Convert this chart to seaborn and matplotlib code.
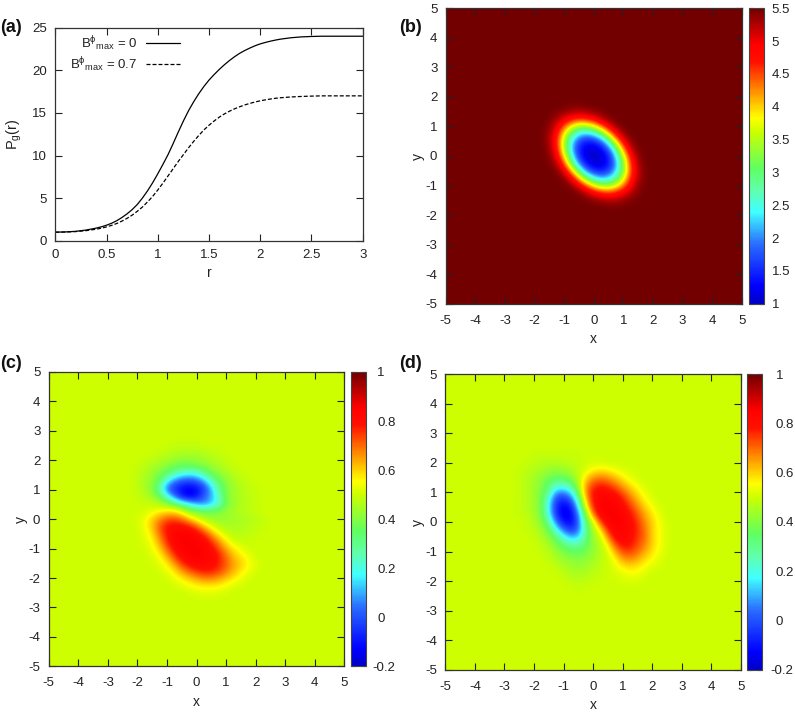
import numpy as np
import pandas as pd
import matplotlib
matplotlib.use("Agg")
import matplotlib.pyplot as plt
from matplotlib.colors import LinearSegmentedColormap
from matplotlib.transforms import ScaledTranslation
import seaborn as sns

# ---------- panel (a) ----------
r_values = [0, .1, .2, .3, .4, .45, .5, .55, .6, .65, .7, .75, .8, .85, .9, .95, 1, 1.05, 1.1, 1.15, 1.2, 1.25,
            1.3, 1.35, 1.4, 1.45, 1.5, 1.55, 1.6, 1.65, 1.7, 1.75, 1.8, 1.85, 1.9, 1.95, 2, 2.05, 2.1, 2.15, 2.2,
            2.3, 2.4, 2.5, 2.6, 2.8, 3]
p_b0 = [1, 1.03, 1.1, 1.25, 1.48, 1.63, 1.82, 2.05, 2.35, 2.72, 3.15, 3.65, 4.25, 5.0, 5.85, 6.8, 7.85, 8.95, 10.1,
        11.4, 12.75, 14.05, 15.25, 16.3, 17.25, 18.1, 18.85, 19.5, 20.1, 20.65, 21.15, 21.6, 22.0, 22.33, 22.62,
        22.88, 23.1, 23.27, 23.42, 23.55, 23.66, 23.82, 23.92, 23.97, 24, 24, 24]
p_b07 = [1, 1.02, 1.07, 1.18, 1.35, 1.47, 1.62, 1.8, 2.02, 2.3, 2.62, 3.0, 3.45, 3.95, 4.55, 5.2, 5.95, 6.75, 7.6,
         8.45, 9.3, 10.1, 10.9, 11.65, 12.35, 13.0, 13.55, 14.05, 14.5, 14.88, 15.2, 15.48, 15.72, 15.94, 16.12,
         16.28, 16.42, 16.53, 16.63, 16.72, 16.78, 16.87, 16.93, 16.97, 17, 17, 17]
label_b0 = r'B$^{\phi}{}_{\mathrm{max}}$ = 0'
label_b07 = r'B$^{\phi}{}_{\mathrm{max}}$ = 0.7'

# ---------- panel (b): rows y = 2 ... 0, x = -2 ... 2, step 0.25 ----------
b_rows = [
    [5.5]*17,
    [5.5, 5.5, 5.5, 5.5, 5.48, 5.47, 5.47, 5.49, 5.5, 5.5, 5.5, 5.5, 5.5, 5.5, 5.5, 5.5, 5.5],
    [5.5, 5.5, 5.49, 5.44, 5.38, 5.28, 5.26, 5.32, 5.41, 5.46, 5.5, 5.5, 5.5, 5.5, 5.5, 5.5, 5.5],
    [5.5, 5.5, 5.44, 5.27, 5.0, 4.75, 4.6, 4.71, 4.92, 5.22, 5.42, 5.49, 5.5, 5.5, 5.5, 5.5, 5.5],
    [5.5, 5.48, 5.38, 5.0, 4.39, 3.79, 3.4, 3.42, 3.79, 4.39, 5.0, 5.38, 5.49, 5.5, 5.5, 5.5, 5.5],
    [5.5, 5.47, 5.28, 4.75, 3.79, 2.85, 2.35, 2.15, 2.45, 3.05, 4.03, 4.9, 5.38, 5.49, 5.5, 5.5, 5.5],
    [5.5, 5.47, 5.26, 4.6, 3.4, 2.35, 1.65, 1.42, 1.5, 1.9, 2.8, 4.03, 5.0, 5.42, 5.5, 5.5, 5.5],
    [5.5, 5.49, 5.32, 4.71, 3.42, 2.15, 1.42, 1.12, 1.1, 1.3, 1.9, 3.05, 4.39, 5.22, 5.46, 5.5, 5.5],
    [5.5, 5.5, 5.41, 4.92, 3.79, 2.45, 1.48, 1.1, 1.0, 1.1, 1.48, 2.45, 3.79, 4.92, 5.41, 5.5, 5.5],
]
# ---------- panel (c): rows y = 2.5 ... -2.5, x = -2.5 ... 2.5, step 0.25 ----------
c_rows = [
    [.5,.5,.5,.5,.5,.5,.5,.49,.49,.49,.49,.5,.5,.5,.5,.5,.5,.5,.5,.5,.5],
    [.5,.5,.5,.5,.5,.49,.48,.47,.46,.46,.46,.47,.48,.49,.5,.5,.5,.5,.5,.5,.5],
    [.5,.5,.5,.49,.48,.46,.45,.43,.42,.42,.43,.44,.46,.47,.49,.5,.5,.5,.5,.5,.5],
    [.5,.5,.49,.47,.45,.43,.40,.37,.35,.35,.37,.40,.43,.45,.47,.49,.5,.5,.5,.5,.5],
    [.5,.5,.48,.46,.43,.38,.33,.25,.19,.16,.19,.27,.36,.41,.44,.47,.49,.5,.5,.5,.5],
    [.5,.5,.48,.45,.41,.34,.16,.04,-.02,-.03,0,.09,.24,.35,.41,.45,.47,.49,.5,.5,.5],
    [.5,.5,.48,.45,.40,.25,.03,-.06,-.12,-.15,-.12,-.03,.12,.30,.39,.44,.46,.48,.49,.5,.5],
    [.5,.5,.49,.47,.43,.37,.20,.04,-.10,-.15,-.10,.03,.10,.25,.40,.44,.46,.48,.49,.5,.5],
    [.5,.5,.5,.49,.49,.46,.42,.34,.25,.17,.09,.06,.13,.22,.38,.43,.46,.47,.49,.5,.5],
    [.5,.5,.5,.51,.53,.56,.58,.58,.52,.42,.40,.36,.38,.40,.43,.45,.47,.48,.49,.5,.5],
    [.5,.5,.51,.54,.60,.66,.71,.72,.68,.60,.52,.46,.43,.42,.43,.44,.45,.46,.47,.49,.5],
    [.5,.5,.51,.55,.62,.72,.79,.81,.80,.77,.70,.60,.52,.47,.45,.45,.46,.47,.48,.49,.5],
    [.5,.5,.5,.53,.59,.70,.79,.84,.85,.85,.81,.74,.64,.55,.49,.47,.47,.48,.49,.5,.5],
    [.5,.5,.5,.52,.56,.66,.77,.84,.86,.86,.85,.82,.74,.65,.56,.50,.49,.49,.5,.5,.5],
    [.5,.5,.5,.51,.54,.61,.72,.81,.85,.86,.86,.85,.80,.72,.63,.57,.53,.5,.5,.5,.5],
    [.5,.5,.5,.5,.52,.56,.65,.75,.83,.85,.86,.85,.83,.77,.69,.61,.57,.53,.5,.5,.5],
    [.5,.5,.5,.5,.51,.53,.58,.67,.76,.81,.84,.84,.82,.77,.71,.64,.60,.56,.52,.5,.5],
    [.5,.5,.5,.5,.5,.51,.54,.59,.67,.73,.77,.79,.78,.75,.69,.63,.58,.54,.51,.5,.5],
    [.5,.5,.5,.5,.5,.5,.51,.54,.58,.62,.66,.69,.69,.66,.62,.58,.54,.51,.5,.5,.5],
    [.5,.5,.5,.5,.5,.5,.5,.51,.53,.55,.57,.58,.58,.57,.55,.52,.51,.5,.5,.5,.5],
    [.5,.5,.5,.5,.5,.5,.5,.5,.5,.51,.52,.53,.53,.52,.51,.5,.5,.5,.5,.5,.5],
]
# ---------- panel (d): same grid as (c) ----------
d_rows = [
    [.5]*21,
    [.5,.5,.49,.49,.49,.49,.49,.49,.49,.5,.5,.5,.5,.5,.5,.5,.5,.5,.5,.5,.5],
    [.5,.49,.48,.47,.46,.46,.47,.48,.49,.5,.51,.51,.5,.5,.5,.5,.5,.5,.5,.5,.5],
    [.49,.48,.46,.45,.43,.42,.43,.45,.48,.52,.56,.58,.57,.54,.52,.51,.5,.5,.5,.5,.5],
    [.49,.47,.45,.42,.38,.35,.36,.40,.47,.58,.66,.68,.66,.62,.57,.53,.51,.5,.5,.5,.5],
    [.49,.47,.44,.40,.33,.26,.24,.30,.45,.64,.74,.77,.75,.70,.64,.58,.54,.51,.5,.5,.5],
    [.49,.47,.44,.39,.30,.08,.06,.14,.37,.66,.79,.83,.82,.78,.72,.65,.58,.53,.51,.5,.5],
    [.49,.47,.44,.38,.20,-.02,-.07,0,.25,.60,.79,.85,.85,.84,.78,.70,.63,.56,.52,.5,.5],
    [.49,.47,.44,.38,.18,-.06,-.15,-.10,.14,.52,.76,.85,.86,.85,.82,.75,.68,.60,.55,.51,.5],
    [.49,.48,.45,.39,.20,-.04,-.16,-.14,.05,.38,.68,.83,.86,.86,.85,.79,.72,.64,.58,.53,.5],
    [.5,.49,.46,.41,.30,.05,-.10,-.14,.02,.32,.50,.73,.85,.86,.85,.81,.75,.67,.60,.54,.51],
    [.5,.49,.48,.44,.37,.20,.04,-.05,.03,.28,.45,.58,.77,.85,.85,.82,.76,.69,.60,.55,.51],
    [.5,.5,.49,.46,.41,.33,.20,.11,.13,.30,.43,.50,.67,.81,.84,.81,.75,.70,.60,.55,.51],
    [.5,.5,.5,.48,.45,.39,.33,.27,.27,.34,.42,.47,.57,.73,.80,.79,.73,.68,.60,.55,.51],
    [.5,.5,.5,.49,.47,.43,.39,.36,.35,.38,.42,.46,.52,.63,.73,.74,.70,.64,.58,.54,.51],
    [.5,.5,.5,.5,.48,.46,.43,.41,.40,.41,.44,.47,.50,.56,.65,.67,.64,.59,.56,.52,.5],
    [.5,.5,.5,.5,.5,.48,.46,.44,.43,.44,.46,.48,.50,.53,.57,.59,.58,.55,.52,.51,.5],
    [.5,.5,.5,.5,.5,.5,.48,.46,.45,.46,.48,.49,.5,.51,.53,.55,.54,.52,.5,.5,.5],
    [.5,.5,.5,.5,.5,.5,.5,.48,.48,.48,.49,.5,.5,.5,.51,.51,.51,.5,.5,.5,.5],
    [.5,.5,.5,.5,.5,.5,.5,.5,.49,.5,.5,.5,.5,.5,.5,.5,.5,.5,.5,.5,.5],
    [.5]*21,
]
xy_ticks = [-5, -4, -3, -2, -1, 0, 1, 2, 3, 4, 5]
b_cbar_ticks = [1, 1.5, 2, 2.5, 3, 3.5, 4, 4.5, 5, 5.5]
cd_cbar_ticks = [-.2, 0, .2, .4, .6, .8, 1]

sns.set_theme(style="ticks")
plt.rcParams.update({
    "font.family": ["Liberation Sans", "DejaVu Sans"],
    "mathtext.fontset": "custom",
    "mathtext.rm": "Liberation Sans",
    "mathtext.it": "Liberation Sans",
    "axes.unicode_minus": False,
    "font.size": 9.5,
    "text.color": "#222222",
    "axes.labelcolor": "#222222",
    "xtick.color": "#222222",
    "ytick.color": "#222222",
})
W, H = 795, 712
fig = plt.figure(figsize=(W / 100, H / 100), dpi=100)
TICK_FS = 9.5


def new_ax(l, t, r, b):
    return fig.add_axes([l / W, 1 - b / H, (r - l) / W, (b - t) / H])


def style(ax, xpad=6):
    ax.tick_params(direction="in", length=5, width=.8, top=True, right=True,
                   labelsize=TICK_FS, pad=6, color="#222222")
    ax.tick_params(axis="x", pad=xpad)
    for s in ax.spines.values():
        s.set_linewidth(.9)
        s.set_color("#333333")


cmap = LinearSegmentedColormap.from_list("g", [
    (0, "#0000c8"), (.06, "#0000ff"), (.2, "#2a6cff"), (.31, "#40ffff"), (.38, "#60ffb0"),
    (.46, "#60ff60"), (.583, "#ccff00"), (.63, "#ffff00"), (.72, "#ff9000"), (.82, "#ff1000"),
    (.88, "#ff0000"), (1, "#720000")])


def field(box, cbar_l, rows, pad, bg, vmin, vmax, ticks, tick_labels, cb_pad):
    l, t, r, b = box
    ax = new_ax(l, t, r, b)
    arr = np.pad(np.array(rows, float), pad, constant_values=bg)
    im = ax.imshow(arr, cmap=cmap, vmin=vmin, vmax=vmax, interpolation="bicubic",
                   extent=(-5.125, 5.125, -5.125, 5.125), origin="upper", aspect="auto")
    ax.set_xlim(-5, 5)
    ax.set_ylim(-5, 5)
    ax.set_xticks(xy_ticks)
    ax.set_yticks(xy_ticks)
    style(ax, xpad=8)
    ax.set_xlabel("x", fontsize=TICK_FS + .5, labelpad=4)
    ax.set_ylabel("y", fontsize=TICK_FS + .5, labelpad=0)
    cax = new_ax(cbar_l, t, cbar_l + 15, b)
    cb = fig.colorbar(im, cax=cax)
    cb.set_ticks(ticks)
    cb.set_ticklabels(tick_labels)
    cax.tick_params(direction="in", length=3.5, width=.8, left=True, right=True,
                    labelsize=TICK_FS, pad=cb_pad, color="#222222")
    cb.outline.set_linewidth(.8)
    cb.outline.set_edgecolor("#444444")
    for lab in cax.get_yticklabels():
        if lab.get_text().startswith("-"):
            lab.set_transform(lab.get_transform() + ScaledTranslation(-3.6 / 72, 0, fig.dpi_scale_trans))
    return ax


# (a)
ax_a = new_ax(55.3, 27.7, 362.7, 240.7)
frame = pd.DataFrame({"r": r_values * 2, "P": p_b0 + p_b07,
                      "B": [label_b0] * len(r_values) + [label_b07] * len(r_values)})
sns.lineplot(data=frame, x="r", y="P", hue="B", style="B", ax=ax_a, palette=["black", "black"],
             dashes=[(None, None), (3.2, 1.6)], linewidth=.9, errorbar=None)
ax_a.set_xlim(0, 3)
ax_a.set_ylim(0, 25)
ax_a.set_xticks([0, .5, 1, 1.5, 2, 2.5, 3])
ax_a.set_xticklabels(["0", "0.5", "1", "1.5", "2", "2.5", "3"])
ax_a.set_yticks([0, 5, 10, 15, 20, 25])
ax_a.set_xlabel("r", fontsize=TICK_FS + .5, labelpad=3.5)
ax_a.set_ylabel(r"P$_\mathrm{g}$(r)", fontsize=TICK_FS + 1, labelpad=6)
style(ax_a)
leg = ax_a.legend(markerfirst=False, frameon=False, loc="upper left", bbox_to_anchor=(.032, .996),
                  fontsize=TICK_FS, handlelength=2.6, handletextpad=.6, labelspacing=.2, borderaxespad=0)
for t in leg.get_texts():
    t.set_ha("right")

# (b)
b_full = b_rows + [row[::-1] for row in b_rows[-2::-1]]
field((445.7, 8.3, 741.7, 303.7), 748.7, b_full, 12, 5.5, 1, 5.5, b_cbar_ticks,
      ["1", "1.5", "2", "2.5", "3", "3.5", "4", "4.5", "5", "5.5"], 5.6)
# (c)
field((48.7, 372, 344.3, 666.3), 351, c_rows, 10, .5, -.2, 1, cd_cbar_ticks,
      ["-0.2", "0", "0.2", "0.4", "0.6", "0.8", "1"], 8)
# (d)
field((445.3, 374.3, 741, 669.7), 747.3, d_rows, 10, .5, -.2, 1, cd_cbar_ticks,
      ["-0.2", "0", "0.2", "0.4", "0.6", "0.8", "1"], 9.5)

for lab, px, py in [("(a)", 0, 27), ("(b)", 399, 27), ("(c)", 0, 363), ("(d)", 399, 363)]:
    fig.text(px / W, 1 - py / H, lab, fontsize=13, fontweight="bold", color="#111111",
             ha="left", va="center")

fig.savefig("out.png", dpi=100)
